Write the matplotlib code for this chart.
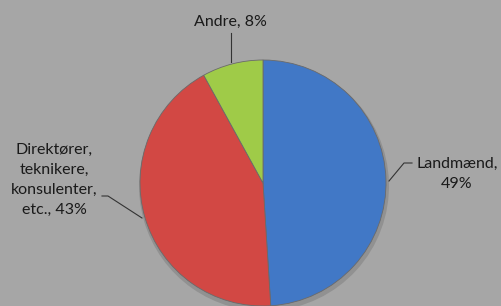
import matplotlib
matplotlib.use("Agg")
import matplotlib.pyplot as plt

labels = ["Landmænd,\n49%", "Direktører,\nteknikere,\nkonsulenter,\netc., 43%", "Andre, 8%"]
values = [49, 43, 8]
colors = ["#4178c6", "#d24844", "#9fcb48"]

W, H = 501, 306
fig = plt.figure(figsize=(W / 100, H / 100), dpi=100)
fig.patch.set_facecolor("#a6a6a6")
ax = fig.add_axes([0, 0, 1, 1])
ax.set_facecolor("#a6a6a6")

cx, cy, r = 263, H - 183, 123

# shadow
ax.pie(values, colors=["#919191"] * 3, startangle=90, counterclock=False,
       radius=r + 2, center=(cx + 1, cy - 3), frame=True,
       wedgeprops=dict(linewidth=0))
wedges, _ = ax.pie(values, colors=colors, startangle=90, counterclock=False,
                   radius=r, center=(cx, cy), frame=True,
                   wedgeprops=dict(linewidth=0.6, edgecolor="#6a6a6a"))
ax.set_xlim(0, W)
ax.set_ylim(0, H)
ax.set_aspect("equal")
ax.axis("off")

font = dict(family=["Lato", "DejaVu Sans"], fontsize=11.5, color="#1a1a1a")

# labels
ax.text(457, H - 174, labels[0], ha="center", va="center", linespacing=1.55, **font)
ax.text(54, H - 180, labels[1], ha="center", va="center", linespacing=1.55, **font)
ax.text(230, H - 22, labels[2], ha="center", va="center", **font)

# leader lines
lc = dict(color="#333333", linewidth=0.8)
ax.plot([389, 404, 412], [H - 181, H - 163, H - 163], **lc)
ax.plot([102, 108, 142], [H - 196, H - 196, H - 218], **lc)
ax.plot([231, 231], [H - 33, H - 62], **lc)

fig.savefig("out.png", dpi=100, facecolor=fig.get_facecolor())
